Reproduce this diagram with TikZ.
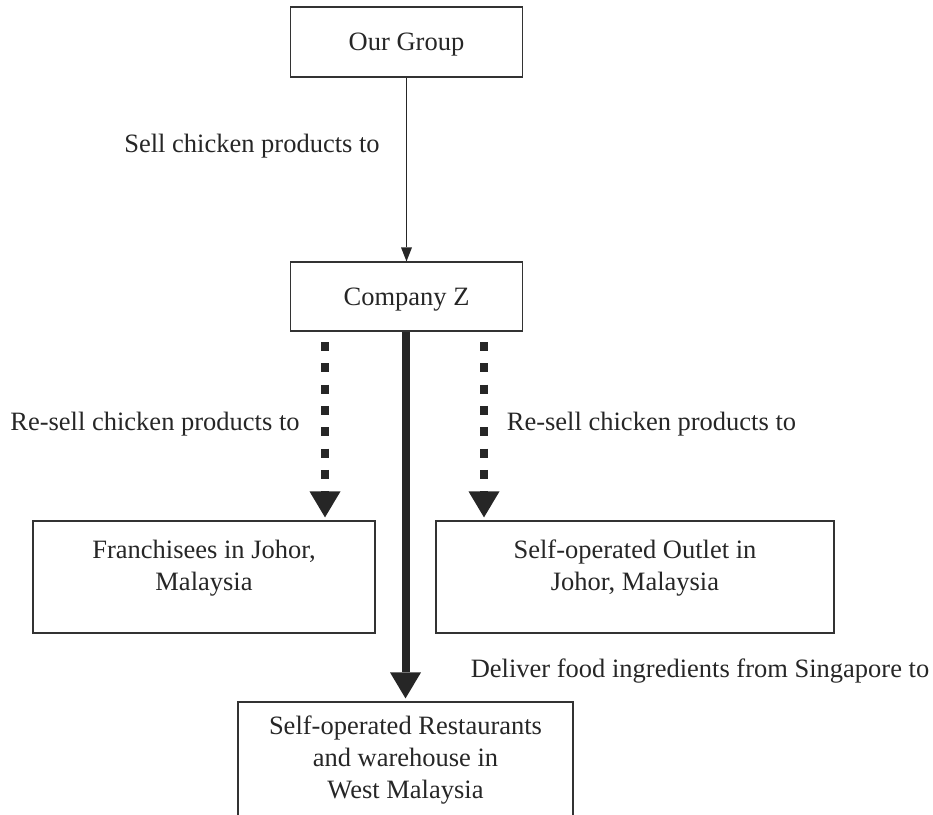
\documentclass[tikz,border=0pt]{standalone}
\usepackage{fontspec}
\setmainfont{Liberation Serif}
\usetikzlibrary{arrows.meta}
\begin{document}
\begin{tikzpicture}[x=1pt,y=1pt,
  txt/.style={font=\fontsize{26.5}{32}\selectfont, inner sep=0pt, text=black!85},
  box/.style={draw=black!80, line width=1.2pt, inner sep=0pt, font=\fontsize{26.5}{32}\selectfont, text=black!85},
  onebox/.style={box, text height=17pt, text depth=0pt},
  thinarrow/.style={draw=black!85, line width=1pt, -{Triangle[width=11pt,length=14pt,line width=0pt]}},
  dasharrow/.style={draw=black!85, line width=8.5pt, dash pattern=on 9pt off 12.3pt, -{Triangle[width=31pt,length=26pt,line width=0pt]}},
  thickarrow/.style={draw=black!85, line width=8pt, -{Triangle[width=31pt,length=26pt,line width=0pt]}}]
\useasboundingbox (0,0) rectangle (933,-814);
\begin{scope}
\clip (0,0) rectangle (933,-814);
% boxes
\node[onebox, minimum width=232pt, minimum height=70pt] (og) at (406.5,-42) {Our Group};
\node[onebox, minimum width=232pt, minimum height=69pt] (cz) at (406.5,-296.5) {Company Z};
\node[box, minimum width=342pt, minimum height=112pt] (fr) at (204,-577) {};
\node[box, minimum width=398pt, minimum height=112pt] (ou) at (635,-577) {};
\node[box, minimum width=335pt, minimum height=140pt] (bt) at (405.5,-772) {};
% box texts
\node[txt, align=center, anchor=north] (frt) at (204,-535.6) {\strut Franchisees in Johor,\\Malaysia};
\node[txt, align=center, anchor=north] (out) at (635,-535.6) {\strut Self-operated Outlet in\\Johor, Malaysia};
\node[txt, align=center, anchor=north] (btt) at (405.5,-711.6) {\strut Self-operated Restaurants\\and warehouse in\\West Malaysia};
% labels
\node[txt, anchor=base] (l1) at (252,-152) {Sell chicken products to};
\node[txt, anchor=base] (l2) at (155,-430) {Re-sell chicken products to};
\node[txt, anchor=base] (l3) at (651.5,-430) {Re-sell chicken products to};
\node[txt, anchor=base] (l4) at (700,-677) {Deliver food ingredients from Singapore to};
% connectors
\coordinate (d1) at (325,-342);
\coordinate (d2) at (484,-342);
\draw[thinarrow] (og.south) -- (cz.north);
\draw[thickarrow, shorten >=3pt] (bt.north |- cz.south) -- (bt.north);
\draw[dasharrow, shorten >=3pt] (d1) -- (d1 |- fr.north);
\draw[dasharrow, shorten >=3pt] (d2) -- (d2 |- ou.north);
\end{scope}
\end{tikzpicture}
\end{document}
